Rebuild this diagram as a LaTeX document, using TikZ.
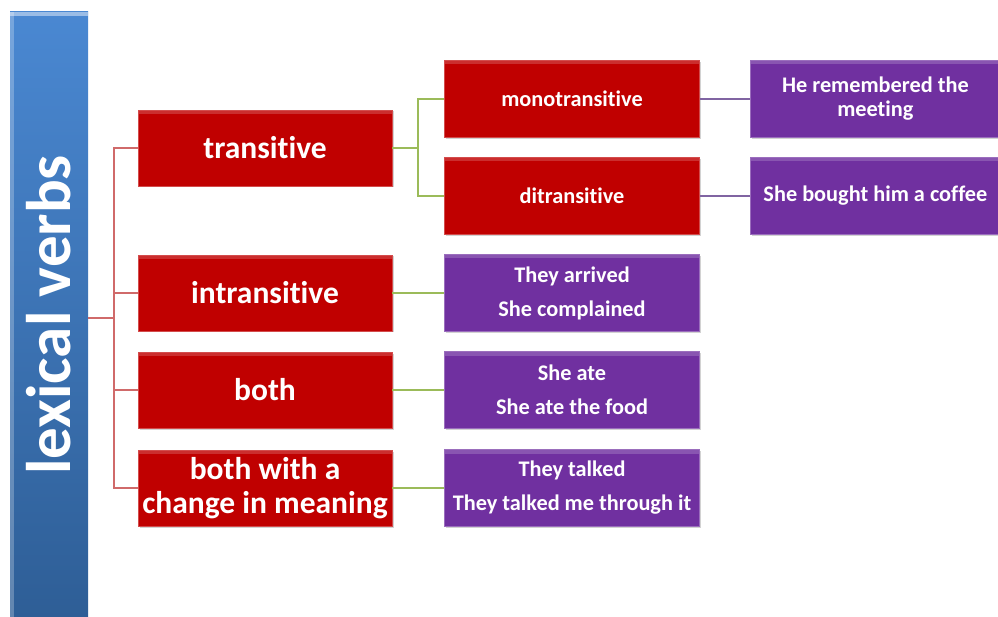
\documentclass[tikz,border=0pt]{standalone}
\usepackage{fontspec}
\setmainfont{Carlito}[Ligatures=NoCommon]
\usetikzlibrary{shadows}
\definecolor{boxred}{HTML}{C00000}
\definecolor{boxpurple}{HTML}{7030A0}
\definecolor{bartop}{HTML}{4A88D2}
\definecolor{barbot}{HTML}{2E5E96}
\definecolor{linkred}{HTML}{D06A6A}
\definecolor{linkgreen}{HTML}{9BBB59}
\definecolor{linkpurple}{HTML}{8064A2}
\tikzset{
  card/.style={draw=#1!70!white, line width=0.8pt, fill=#1, text=white,
    align=center, inner sep=0pt,
    path picture={\fill[white, opacity=0.18]
      (path picture bounding box.north west) rectangle
      ([yshift=-4pt]path picture bounding box.north east);},
    drop shadow={shadow xshift=1.5pt, shadow yshift=-1.5pt, opacity=0.35}},
  catbox/.style={card=boxred, minimum width=254pt, minimum height=76pt,
    font=\bfseries\fontsize{31.5}{34}\selectfont},
  subbox/.style={card=boxred, minimum width=255pt, minimum height=77pt,
    font=\bfseries\fontsize{22.3}{24}\selectfont},
  exbox/.style={card=boxpurple, minimum width=255pt, minimum height=77pt,
    font=\bfseries\fontsize{22.3}{34}\selectfont},
  exboxtight/.style={exbox, font=\bfseries\fontsize{22.3}{24}\selectfont},
  redlink/.style={draw=linkred, line width=2pt},
  greenlink/.style={draw=linkgreen, line width=2pt},
  purplelink/.style={draw=linkpurple, line width=2pt},
}
\begin{document}
\begin{tikzpicture}[x=1pt,y=-1pt]
\useasboundingbox (0,0) rectangle (998,617);
\fill[white] (0,0) rectangle (998,617);

% vertical title bar
\shade[top color=bartop, bottom color=barbot] (10,12) rectangle (88,620);
\fill[white, opacity=0.45] (10,12) rectangle (88,16);
\fill[white, opacity=0.25] (10,12) rectangle (14,620);
\node[coordinate] (barR) at (88,318) {};
\node[rotate=90, text=white, font=\bfseries\fontsize{63}{65}\selectfont] (title) at (49,315) {lexical verbs};

% first level
\node[catbox] (trans) at (265,148) {transitive};
\node[catbox] (intrans) at (265,293) {intransitive};
\node[catbox] (both) at (265,390) {both};
\node[catbox] (change) at (265,488) {both with a\\change in meaning};

% second level
\node[subbox] (mono) at (572,99) {monotransitive};
\node[subbox] (ditr) at (572,196) {ditransitive};

% examples
\node[exboxtight, minimum width=250pt, anchor=west] (exmono) at (750,99) {He remembered the\\meeting};
\node[exbox, minimum width=250pt, anchor=west] (exditr) at (750,196) {She bought him a coffee};
\node[exbox] (exintr) at (572,293) {They arrived\\She complained};
\node[exbox] (exboth) at (572,390) {She ate\\She ate the food};
\node[exbox] (exchg) at (572,488) {They talked\\They talked me through it};

% connectors from the title bar
\draw[redlink] (barR) -- ++(26,0) coordinate (fork);
\draw[redlink] (trans.west) -| (fork) |- (change.west);
\draw[redlink] (intrans.west) -- (intrans.west -| fork);
\draw[redlink] (both.west) -- (both.west -| fork);

% connectors from transitive
\draw[greenlink] (trans.east) -- ++(26,0) coordinate (tfork);
\draw[greenlink] (mono.west) -| (tfork) |- (ditr.west);
\draw[greenlink] (intrans.east) -- (exintr.west);
\draw[greenlink] (both.east) -- (exboth.west);
\draw[greenlink] (change.east) -- (exchg.west);

% connectors to the examples
\draw[purplelink] (mono.east) -- (exmono.west);
\draw[purplelink] (ditr.east) -- (exditr.west);
\end{tikzpicture}
\end{document}
